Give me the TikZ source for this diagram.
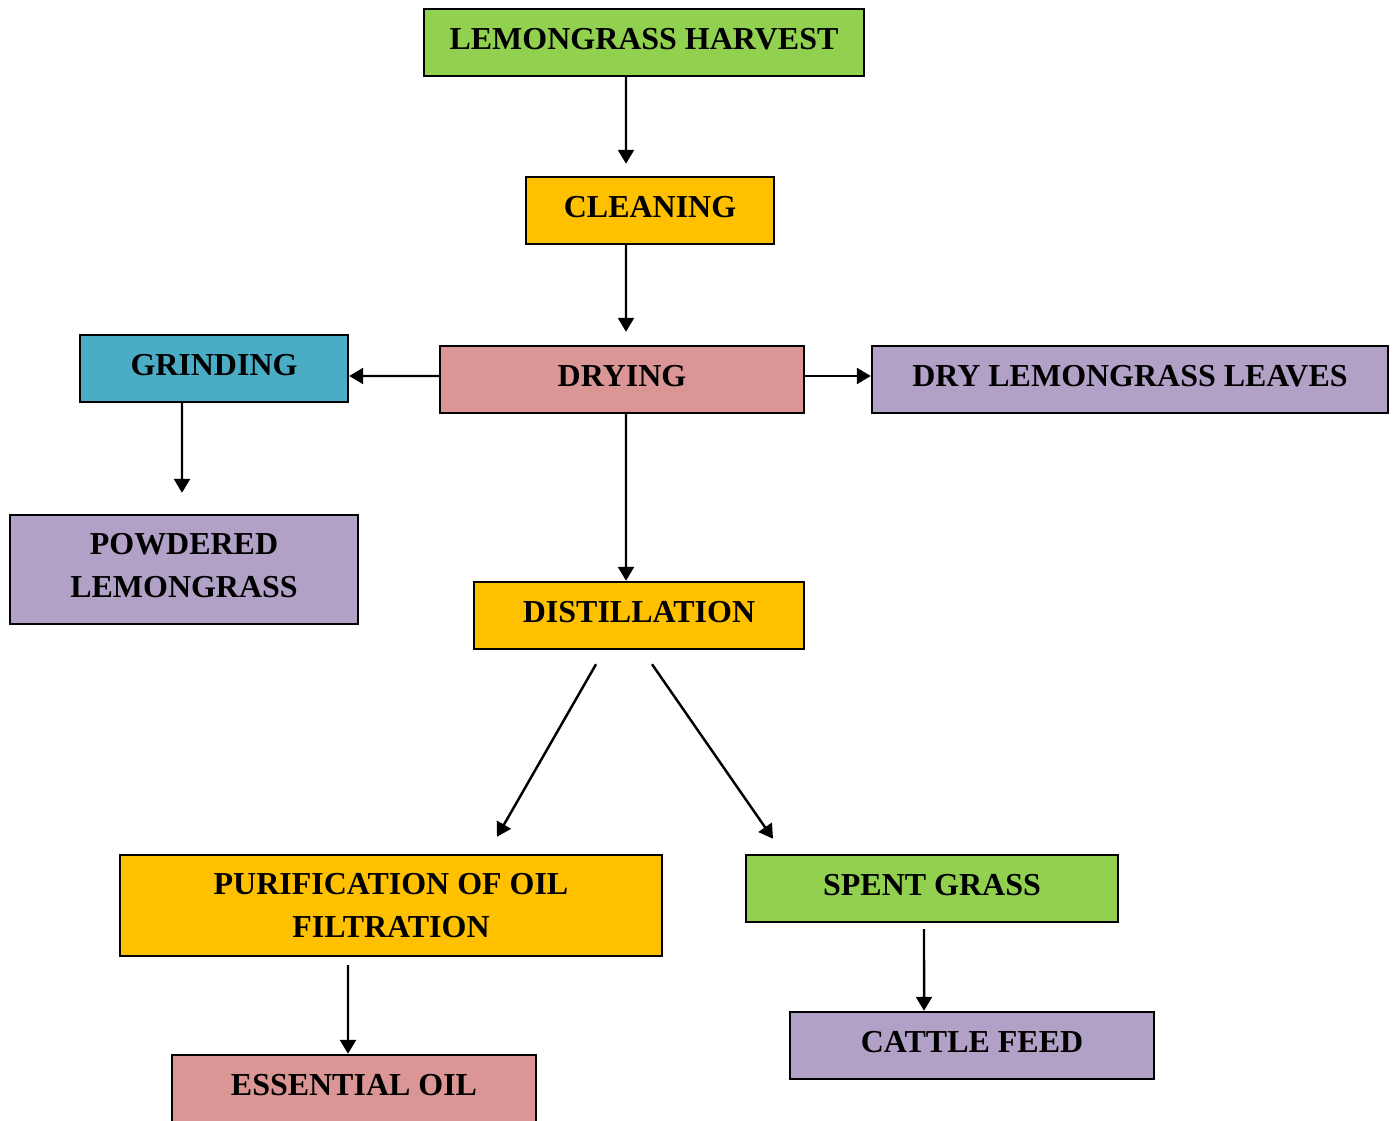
\documentclass[tikz,border=0pt]{standalone}
\usepackage{fontspec}
\setmainfont{Liberation Serif}
\usetikzlibrary{arrows.meta, positioning, calc}

\definecolor{leafgreen}{HTML}{92D050}
\definecolor{gold}{HTML}{FFC000}
\definecolor{rose}{HTML}{D99694}
\definecolor{teal}{HTML}{4BACC6}
\definecolor{lilac}{HTML}{B2A1C7}

\begin{document}
\begin{tikzpicture}[x=0.02cm, y=-0.02cm, >={Triangle[length=0.28cm, width=0.32cm]}, line width=1.4pt,
    box/.style={draw, minimum height=1.34cm, inner sep=0pt, align=center,
      font=\bfseries\fontsize{18.2}{24.5}\selectfont, text depth=0.16cm}]
          \useasboundingbox (0,0) rectangle (1395,1121);
          % boxes
          \node[box, fill=leafgreen, minimum width=8.8cm] (harvest) at (644,42.5) {LEMONGRASS HARVEST};
          \node[box, fill=gold, minimum width=4.96cm] (cleaning) at (650,210.5) {CLEANING};
          \node[box, fill=rose, minimum width=7.28cm] (drying) at (622,379.5) {DRYING};
          \node[box, fill=teal, minimum width=5.36cm] (grinding) at (214,368.5) {GRINDING};
          \node[box, fill=lilac, minimum width=10.32cm] (leaves) at (1130,379.5) {DRY LEMONGRASS LEAVES};
          \node[box, fill=lilac, minimum width=6.96cm, minimum height=2.18cm] (powder) at (184,569.5) {POWDERED\\LEMONGRASS};
          \node[box, fill=gold, minimum width=6.6cm] (distill) at (639,615.5) {DISTILLATION};
          \node[box, text depth=0pt, fill=gold, minimum width=10.84cm, minimum height=2.02cm] (purify) at (391,905.5) {PURIFICATION OF OIL\\FILTRATION};
          \node[box, fill=leafgreen, minimum width=7.44cm] (spent) at (932,888.5) {SPENT GRASS};
          \node[box, fill=lilac, minimum width=7.28cm] (cattle) at (972,1045.5) {CATTLE FEED};
          \node[box, fill=rose, minimum width=7.28cm] (oil) at (354,1088.5) {ESSENTIAL OIL};
          % arrows
          \draw[->, shorten >=0.24cm] ([xshift=-0.36cm]harvest.south) -- ([xshift=-0.48cm]cleaning.north);
          \draw[->, shorten >=0.26cm] ([xshift=-0.48cm]cleaning.south) -- ([xshift=0.08cm]drying.north);
          \draw[->] ([yshift=0.07cm]drying.west) -- ([yshift=-0.15cm]grinding.east);
          \draw[->] ([yshift=0.07cm]drying.east) -- ([yshift=0.07cm]leaves.west);
          \draw[->, shorten >=0.42cm] ([xshift=-0.64cm]grinding.south) -- ([xshift=-0.04cm]powder.north);
          \draw[->] ([xshift=0.08cm]drying.south) -- ([xshift=-0.26cm]distill.north);
          \draw[->] ([xshift=-0.86cm, yshift=-0.28cm]distill.south) -- ([xshift=2.12cm, yshift=0.34cm]purify.north);
          \draw[->] ([xshift=0.26cm, yshift=-0.28cm]distill.south) -- ([xshift=-3.18cm, yshift=0.3cm]spent.north);
          \draw[->] ([xshift=-0.86cm, yshift=-0.16cm]purify.south) -- ([xshift=-0.12cm]oil.north);
          \draw[->] ([xshift=-0.16cm, yshift=-0.12cm]spent.south) -- ([xshift=-0.96cm]cattle.north);
      \end{tikzpicture}
\end{document}
